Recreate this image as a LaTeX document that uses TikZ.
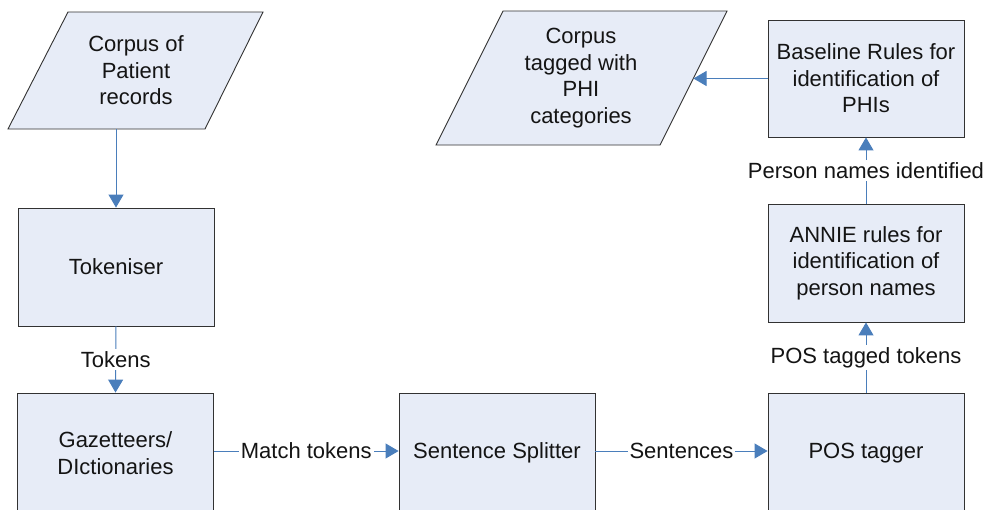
\documentclass[tikz,border=0pt]{standalone}
\usepackage{fontspec}
\setmainfont{Liberation Sans}
\usetikzlibrary{arrows.meta}
\definecolor{boxfill}{RGB}{231,236,247}
\definecolor{linkblue}{RGB}{74,126,187}
\definecolor{edgegray}{RGB}{50,50,50}
\definecolor{txt}{RGB}{20,20,20}
\tikzset{
  procbox/.style={draw=edgegray, line width=0.9pt, fill=boxfill, minimum width=196pt, align=center, text=txt, font=\fontsize{22}{26.5}\selectfont, inner sep=0pt},
  databox/.style={draw=edgegray, line width=0.9pt, fill=boxfill},
  plaintext/.style={align=center, text=txt, font=\fontsize{22}{26.5}\selectfont, inner sep=0pt},
  link/.style={draw=linkblue, line width=1pt, -{Triangle[width=15pt,length=13pt]}},
  linklabel/.style={fill=white, text=txt, font=\fontsize{22}{26.5}\selectfont, inner sep=2pt}
}
\begin{document}
\begin{tikzpicture}[x=1pt,y=-1pt]
\useasboundingbox[fill=white] (0,0) rectangle (987,509);
% parallelogram 1
\path[databox] (68,12) -- (263,12) -- (205,129) -- (8,129) -- cycle;
\node[plaintext] (corpus) at (136,70.5) {Corpus of\\Patient\\records};
\coordinate (corpusbot) at (116,129);
% parallelogram 2
\path[databox] (503,11) -- (727,11) -- (660,145) -- (436,145) -- cycle;
\node[plaintext] (tagged) at (581,78) {Corpus\\tagged with\\PHI\\categories};
\coordinate (taggedright) at (693.5,78.5);
% boxes
\node[procbox, minimum height=118pt] (tok) at (116,267) {Tokeniser};
\node[procbox, minimum height=120pt] (gaz) at (115.5,453) {Gazetteers/\\DIctionaries};
\node[procbox, minimum height=120pt] (sent) at (497,453) {Sentence Splitter};
\node[procbox, minimum height=120pt] (pos) at (866,453) {POS tagger};
\node[procbox, minimum height=118pt] (annie) at (866,263) {ANNIE rules for\\identification of\\person names};
\node[procbox, minimum height=117pt] (base) at (866,78.5) {Baseline Rules for\\identification of\\PHIs};
% connectors
\draw[link] (corpusbot) -- (tok.north);
\draw[link] (tok.south) -- node[linklabel] {Tokens} (gaz.north);
\draw[link] (gaz.east |- 0,451) -- node[linklabel] {Match tokens} (sent.west |- 0,451);
\draw[link] (sent.east |- 0,451) -- node[linklabel] {Sentences} (pos.west |- 0,451);
\draw[link] (pos.north) -- node[linklabel] {POS tagged tokens} (annie.south);
\draw[link] (annie.north) -- node[linklabel] {Person names identified} (base.south);
\draw[link] (base.west) -- (taggedright);
\end{tikzpicture}
\end{document}
